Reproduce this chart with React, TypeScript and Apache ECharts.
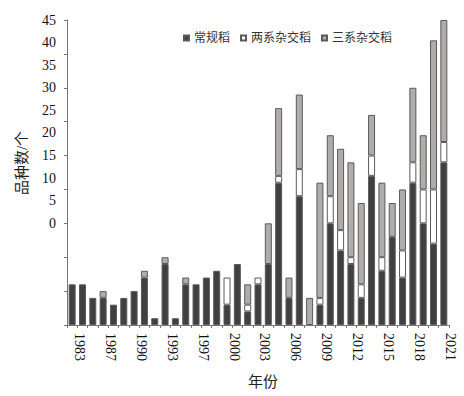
import React, { useEffect, useRef } from "react";
import * as echarts from "echarts";

const years = [
  "1983", "1985", "1986", "1987", "1988", "1989", "1990", "1991", "1992", "1993",
  "1995", "1996", "1997", "1998", "1999", "2000", "2001", "2002", "2003", "2004",
  "2005", "2006", "2007", "2008", "2009", "2010", "2011", "2012", "2013", "2014",
  "2015", "2016", "2017", "2018", "2019", "2020", "2021",
];
const conventional = [6, 6, 4, 4, 3, 4, 5, 7, 1, 9, 1, 6, 6, 7, 8, 3, 9, 2, 6, 9, 21, 4, 19, 0, 3, 15, 11, 9, 4, 22, 8, 13, 7, 21, 15, 12, 24];
const twoLine = [0, 0, 0, 0, 0, 0, 0, 0, 0, 0, 0, 0, 0, 0, 0, 4, 0, 1, 1, 0, 1, 0, 4, 0, 1, 4, 3, 1, 2, 3, 2, 0, 4, 3, 5, 8, 3];
const threeLine = [0, 0, 0, 1, 0, 0, 0, 1, 0, 1, 0, 1, 0, 0, 0, 0, 0, 3, 0, 6, 10, 3, 11, 4, 17, 9, 12, 14, 12, 6, 11, 5, 9, 11, 8, 22, 18];
const seriesNames = ["常规稻", "两系杂交稻", "三系杂交稻"];
const seriesColors = ["#404040", "#ffffff", "#b0acac"];
const yTickLabels = [0, 5, 10, 15, 20, 25, 30, 35, 40, 45];

const FONT = "Liberation Serif, Noto Sans CJK SC, serif";

export default function App() {
  const ref = useRef<HTMLDivElement>(null);
  useEffect(() => {
    document.body.style.margin = "0";
    const chart = echarts.init(ref.current!, undefined, { renderer: "svg" });
    const values = [conventional, twoLine, threeLine];
    chart.setOption({
      animation: false,
      grid: { left: 67, right: 15, top: 20, bottom: 71 },
      legend: {
        left: 178,
        top: 27,
        itemWidth: 5,
        itemHeight: 5,
        itemGap: 10,
        icon: "rect",
        textStyle: { fontFamily: FONT, fontSize: 12, color: "#333" },
        data: seriesNames,
      },
      xAxis: {
        type: "category",
        data: years,
        axisLine: { lineStyle: { color: "#777" } },
        axisTick: { show: true, interval: 0, length: 3, lineStyle: { color: "#777" } },
        axisLabel: {
          interval: 2,
          rotate: -90,
          margin: 8,
          verticalAlign: "bottom",
          fontFamily: FONT,
          fontSize: 14,
          color: "#111",
        },
      },
      yAxis: [
        {
          type: "value",
          min: 0,
          max: 45,
          interval: 5,
          axisLine: { show: true, lineStyle: { color: "#777" } },
          axisTick: { show: true, length: 3, lineStyle: { color: "#777" } },
          axisLabel: { show: false },
          splitLine: { show: false },
        },
        {
          type: "value",
          position: "left",
          min: -22.5,
          max: 45,
          interval: 2.5,
          axisLine: { show: false },
          axisTick: { show: false },
          splitLine: { show: false },
          axisLabel: {
            margin: 11,
            fontFamily: FONT,
            fontSize: 14,
            color: "#111",
            formatter: (v: number) => (yTickLabels.includes(v) ? String(v) : ""),
          },
        },
      ],
      series: seriesNames.map((name, i) => ({
        name,
        type: "bar",
        stack: "total",
        yAxisIndex: 0,
        barWidth: 7,
        itemStyle: { color: seriesColors[i], borderColor: "#5a5a5a", borderWidth: 1 },
        data: values[i].map((v) => (v === 0 ? null : v)),
      })),
      graphic: [
        {
          type: "text",
          x: 22,
          y: 163,
          rotation: Math.PI / 2,
          style: {
            text: "品种数/个",
            fontFamily: FONT,
            fontSize: 15,
            fill: "#222",
            align: "center",
            verticalAlign: "middle",
          },
        },
        {
          type: "text",
          x: 263,
          y: 382,
          style: {
            text: "年份",
            fontFamily: FONT,
            fontSize: 15,
            fill: "#222",
            align: "center",
            verticalAlign: "middle",
          },
        },
      ],
    });
    return () => chart.dispose();
  }, []);
  return <div ref={ref} style={{ width: 464, height: 396 }} />;
}
